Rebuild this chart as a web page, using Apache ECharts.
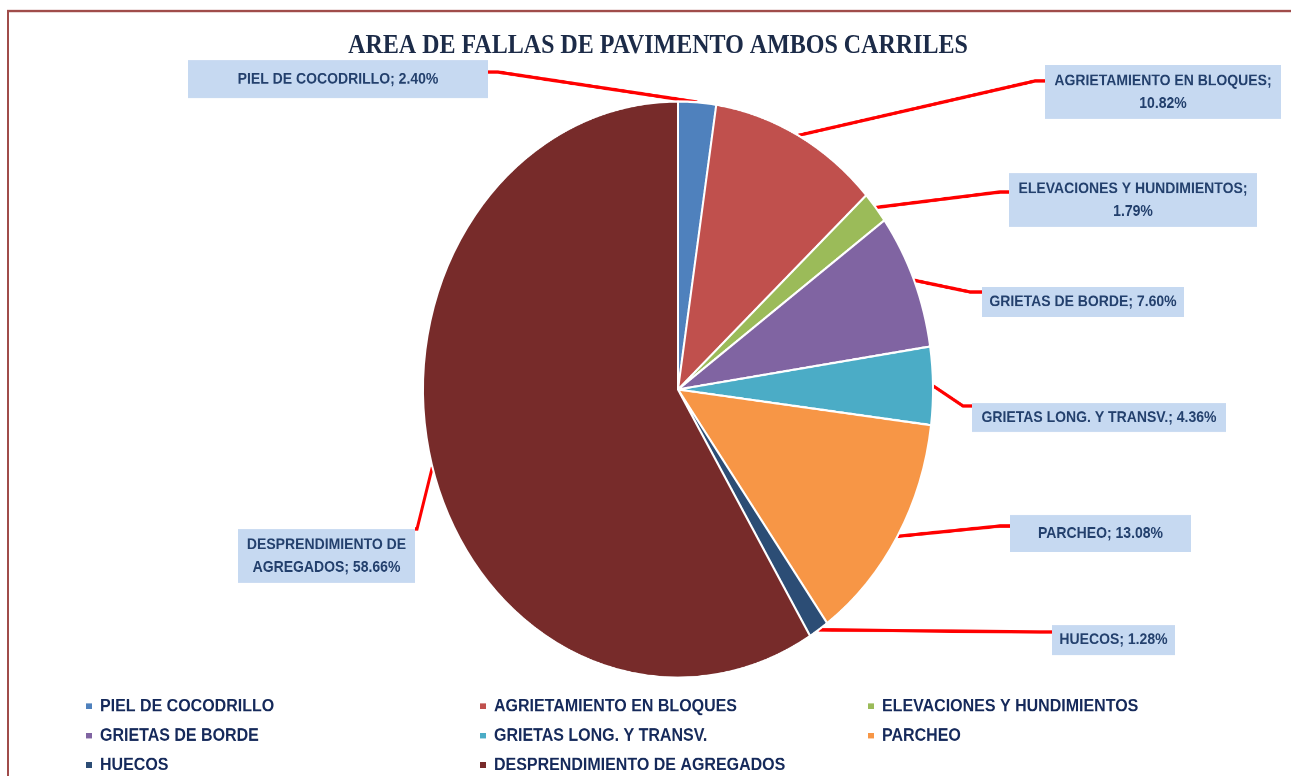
<!DOCTYPE html>
<html>
<head>
<meta charset="utf-8">
<script src="https://cdn.jsdelivr.net/npm/echarts@6/dist/echarts.min.js"></script>
<style>
html, body { margin: 0; padding: 0; background: #fff; }
body { width: 1291px; height: 776px; overflow: hidden; }
/* the source picture is stretched vertically, so the chart is drawn flat and scaled here */
#chart { width: 1291px; height: 687px; transform: scaleY(1.13); transform-origin: 0 0; }
</style>
</head>
<body>
<div id="chart"></div>
<script>
const SY = 1.13

const names = [
  'PIEL DE COCODRILLO',
  'AGRIETAMIENTO EN BLOQUES',
  'ELEVACIONES Y HUNDIMIENTOS',
  'GRIETAS DE BORDE',
  'GRIETAS LONG. Y TRANSV.',
  'PARCHEO',
  'HUECOS',
  'DESPRENDIMIENTO DE AGREGADOS'
]
const values = [2.40, 10.82, 1.79, 7.60, 4.36, 13.08, 1.28, 58.66]
const colors = ['#4f81bd', '#c0504d', '#9bbb59', '#8064a2', '#4bacc6', '#f79646', '#2c4d75', '#772b2a']

// label boxes, picture pixels: left, top, width, height, line bend x, line end y, wrap after ';'
const boxes = [
  [188, 60, 300, 38, 498, 72, false],
  [1045, 65, 236, 54, 1035, 81, true],
  [1009, 173, 248, 54, 1000, 192, true],
  [982, 287, 202, 30, 970, 292, false],
  [972, 403, 254, 29, 963, 406, false],
  [1010, 515, 181, 37, 1000, 526, false],
  [1052, 625, 123, 30, 1040, 632, false],
  [238, 529, 177, 54, 417, 529, true]
]
const wrapName = { 7: 'DESPRENDIMIENTO DE\nAGREGADOS' }

const legendCols = [[0, 3, 6], [1, 4, 7], [2, 5]]
const legendLeft = [84, 478, 866]

const font = 'Liberation Sans'
const LH = 20

const chart = echarts.init(document.getElementById('chart'), null, { devicePixelRatio: 2 })

const data = values.map((v, i) => {
  const b = boxes[i]
  const lines = b[6] ? 2 : 1
  const pad = Math.max(0, (b[3] / SY - lines * LH) / 2)
  return {
    name: names[i],
    value: v,
    label: { width: b[2], padding: [pad, 0, pad, 0] }
  }
})

chart.setOption({
  animation: false,
  color: colors,
  title: {
    text: 'AREA DE FALLAS DE PAVIMENTO AMBOS CARRILES',
    left: 653,
    top: 24,
    textAlign: 'center',
    textStyle: {
      fontFamily: 'Liberation Serif',
      fontWeight: 'bold',
      fontSize: 24,
      color: '#1c2b48'
    }
  },
  legend: legendCols.map((col, i) => ({
    orient: 'vertical',
    left: legendLeft[i],
    top: 617,
    padding: 0,
    data: col.map(k => names[k]),
    icon: 'rect',
    itemWidth: 8,
    itemHeight: 7,
    itemGap: 10,
    selectedMode: false,
    textStyle: {
      fontFamily: font,
      fontWeight: 'bold',
      fontSize: 16,
      lineHeight: 16,
      color: '#15295a',
      padding: [0, 0, 0, 2]
    }
  })),
  graphic: [
    {
      type: 'rect',
      shape: { x: 8, y: 11 / SY, width: 1400, height: 1000 },
      style: { fill: 'none', stroke: '#a04c4a', lineWidth: 2 },
      silent: true
    }
  ],
  series: [
    {
      type: 'pie',
      center: [678, 389.5 / SY],
      radius: 255,
      startAngle: 90,
      clockwise: true,
      avoidLabelOverlap: false,
      data,
      itemStyle: { borderColor: '#fff', borderWidth: 2 },
      label: {
        show: true,
        position: 'outside',
        formatter (p) {
          const b = boxes[p.dataIndex]
          if (!b[6]) return p.name + '; ' + p.value.toFixed(2) + '%'
          if (wrapName[p.dataIndex]) return wrapName[p.dataIndex] + '; ' + p.value.toFixed(2) + '%'
          return p.name + ';\n' + p.value.toFixed(2) + '%'
        },
        fontFamily: font,
        fontWeight: 'bold',
        fontSize: 14,
        lineHeight: LH,
        color: '#23406d',
        backgroundColor: '#c6d9f1',
        align: 'center'
      },
      labelLine: {
        show: true,
        length: 10,
        length2: 10,
        lineStyle: { color: '#ff0000', width: 3 }
      },
      labelLayout (params) {
        const b = boxes[params.dataIndex]
        const pts = params.labelLinePoints
        const edge = b[0] > 678 ? b[0] : b[0] + b[2]
        return {
          x: b[0] + b[2] / 2,
          y: (b[1] + b[3] / 2) / SY,
          align: 'center',
          verticalAlign: 'middle',
          labelLinePoints: [pts[0], [b[4], b[5] / SY], [edge, b[5] / SY]]
        }
      }
    }
  ]
})
</script>
</body>
</html>
